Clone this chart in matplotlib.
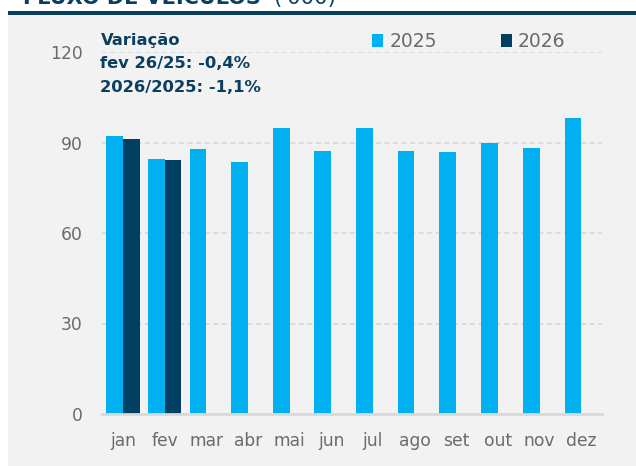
import matplotlib
matplotlib.use("Agg")
import matplotlib.pyplot as plt
from matplotlib.patches import Rectangle
import numpy as np

months = ["jan", "fev", "mar", "abr", "mai", "jun", "jul", "ago", "set", "out", "nov", "dez"]
v2025 = [92.3, 84.5, 87.7, 83.7, 94.9, 87.1, 94.9, 87.1, 87.0, 89.7, 88.3, 98.1]
v2026 = [91.0, 84.2]
yticks = [0, 30, 60, 90, 120]
title_bold = "FLUXO DE VEÍCULOS"
title_reg = "('000)"
notes = ["Variação", "fev 26/25: -0,4%", "2026/2025: -1,1%"]

C25 = "#00B0F0"
C26 = "#013F63"
DARK = "#0B3F60"
GRAY = "#6b6b6b"
BG = "#F2F2F2"

W, H = 636, 466
fig = plt.figure(figsize=(W / 100, H / 100), dpi=100, facecolor="white")

def fx(px):
    return px / W

def fy(py):
    return 1 - py / H

# background panel and top rule
fig.patches.append(Rectangle((fx(8), 0), 1 - fx(8), fy(15.3), transform=fig.transFigure,
                             facecolor=BG, edgecolor="none", zorder=-2))
fig.patches.append(Rectangle((fx(8), fy(15.3)), 1 - fx(8), fy(11) - fy(15.3), transform=fig.transFigure,
                             facecolor=DARK, edgecolor="none", zorder=-2))

# title (cut off at the top, as in the reference)
fig.text(fx(23), fy(4.0), title_bold, fontsize=15, fontweight="bold", color=DARK,
         ha="left", va="baseline")
fig.text(fx(273), fy(4.0), title_reg, fontsize=15.3, color=DARK, ha="left", va="baseline")

ax = fig.add_axes([fx(102), fy(414), fx(602) - fx(102), fy(52) - fy(414)])
ax.set_facecolor("none")
ax.set_zorder(1)

x = np.arange(len(months))
bw = 0.4
ax.bar(x - bw / 2, v2025, width=bw, color=C25, label="2025", zorder=3)
ax.bar(x[:len(v2026)] + bw / 2, v2026, width=bw, color=C26, label="2026", zorder=3)

ax.set_xlim(-0.5, 11.5)
ax.set_ylim(0, 120)
ax.set_yticks(yticks)
ax.set_xticks(x)
ax.set_xticklabels(months)
ax.tick_params(axis="both", length=0, labelsize=12.3, colors=GRAY)
ax.tick_params(axis="y", pad=14)
ax.tick_params(axis="x", pad=13)
for sp in ["top", "right", "left"]:
    ax.spines[sp].set_visible(False)
ax.spines["bottom"].set_color("#d9d9d9")
ax.spines["bottom"].set_linewidth(2)
ax.spines["bottom"].set_zorder(4)
ax.yaxis.grid(True, color="#dcdcdc", linestyle=(0, (2.6, 1.8)), linewidth=1.4, zorder=1)
ax.set_axisbelow(True)

leg = ax.legend(loc="lower left", bbox_to_anchor=(fx(372), fy(51)), bbox_transform=fig.transFigure,
                ncol=2, frameon=False, fontsize=13.5, handlelength=0.6, handleheight=0.65,
                handletextpad=0.32, columnspacing=3.4, borderaxespad=0, borderpad=0)
for txt in leg.get_texts():
    txt.set_color(GRAY)

ys = [45, 68.2, 91.7]
for s, yy in zip(notes, ys):
    fig.text(fx(100.5), fy(yy), s, fontsize=11.8, fontweight="bold", color=DARK,
             ha="left", va="baseline", zorder=5)

fig.savefig("out.png", dpi=100, facecolor="white")
